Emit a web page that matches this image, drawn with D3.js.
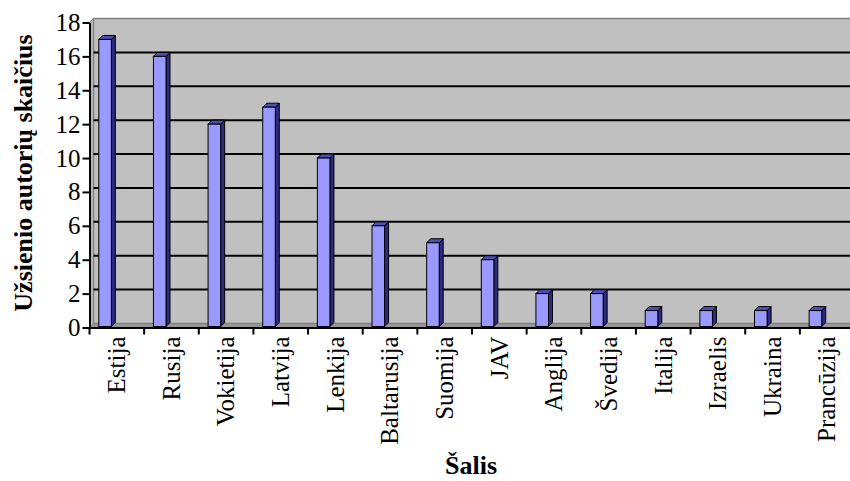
<!DOCTYPE html>
<meta charset="utf-8">
<style>
body { margin: 0; background: #fff; }
svg { display: block; }
.tick text { font-family: "Liberation Serif", "Times New Roman", serif; fill: #000; }
.title { font-family: "Liberation Serif", "Times New Roman", serif; font-weight: bold; fill: #000; }
</style>
<body>
<div id="chart"></div>
<script src="https://cdn.jsdelivr.net/npm/d3@7/dist/d3.min.js"></script>
<script>
// countries and number of foreign authors
var countries = ["Estija", "Rusija", "Vokietija", "Latvija", "Lenkija", "Baltarusija", "Suomija",
                 "JAV", "Anglija", "Švedija", "Italija", "Izraelis", "Ukraina", "Prancūzija"];
var authors = [17, 16, 12, 13, 10, 6, 5, 4, 2, 2, 1, 1, 1, 1];
var yTicks = [0, 2, 4, 6, 8, 10, 12, 14, 16, 18];

var width = 850, height = 481;
var depth = 4;   // fake 3d offset

var svg = d3.select("#chart").append("svg")
    .attr("width", width)
    .attr("height", height);

var x = d3.scaleBand()
    .domain(countries)
    .range([89.5, 854.5])
    .padding(0);

var y = d3.scaleLinear()
    .domain([0, 18])
    .range([327.5, 22.5]);

var x0 = x.range()[0], x1 = x.range()[1];
var y0 = y(0), yTop = y(18);

// back wall
svg.append("rect")
    .attr("x", x0 + depth)
    .attr("y", yTop - depth)
    .attr("width", x1 - x0)
    .attr("height", y0 - yTop)
    .attr("fill", "#c0c0c0")
    .attr("stroke", "#808080")
    .attr("stroke-width", 1.5);

// left side wall
svg.append("polygon")
    .attr("points", [[x0, yTop], [x0 + depth, yTop - depth], [x0 + depth, y0 - depth], [x0, y0]].join(" "))
    .attr("fill", "#b4b4b4")
    .attr("stroke", "#808080")
    .attr("stroke-width", 1);

// floor
svg.append("polygon")
    .attr("points", [[x0, y0], [x1, y0], [x1 + depth, y0 - depth], [x0 + depth, y0 - depth]].join(" "))
    .attr("fill", "#969696")
    .attr("stroke", "#808080")
    .attr("stroke-width", 1);

// gridlines on the back wall
svg.append("g")
    .selectAll("line")
    .data(yTicks.filter(function (d) { return d > 0 && d < 18; }))
    .enter().append("line")
    .attr("x1", x0 + depth)
    .attr("x2", x1 + depth)
    .attr("y1", function (d) { return y(d) - depth; })
    .attr("y2", function (d) { return y(d) - depth; })
    .attr("stroke", "#000")
    .attr("stroke-width", 2);

// bars
var bars = svg.append("g").selectAll("g")
    .data(countries)
    .enter().append("g");

var bx = function (d) { return x(d) + x.bandwidth() * 0.17; };
var bw = x.bandwidth() * 0.23;

bars.append("polygon")   // side
    .attr("points", function (d, i) {
        var l = bx(d) + bw, t = y(authors[i]);
        return [[l, t], [l + depth, t - depth], [l + depth, y0 - 1 - depth], [l, y0 - 1]].join(" ");
    })
    .attr("fill", "#2b2b80")
    .attr("stroke", "#000")
    .attr("stroke-width", 1);

bars.append("polygon")   // top
    .attr("points", function (d, i) {
        var l = bx(d), t = y(authors[i]);
        return [[l, t], [l + depth, t - depth], [l + bw + depth, t - depth], [l + bw, t]].join(" ");
    })
    .attr("fill", "#4d4db3")
    .attr("stroke", "#000")
    .attr("stroke-width", 1);

bars.append("rect")      // front
    .attr("x", function (d) { return bx(d); })
    .attr("y", function (d, i) { return y(authors[i]); })
    .attr("width", bw)
    .attr("height", function (d, i) { return y0 - 1 - y(authors[i]); })
    .attr("fill", "#9999ff")
    .attr("stroke", "#000")
    .attr("stroke-width", 1);

// y axis
var yAxis = svg.append("g")
    .attr("transform", "translate(" + x0 + ",0)")
    .call(d3.axisLeft(y).tickValues(yTicks).tickSize(7).tickSizeOuter(0).tickPadding(2));
yAxis.selectAll("text").style("font-size", "25px");
yAxis.selectAll("line, path").attr("stroke", "#000").attr("stroke-width", 2);

// x axis: labels at band centers, ticks at band boundaries
var xAxis = svg.append("g")
    .attr("transform", "translate(0," + y0 + ")")
    .call(d3.axisBottom(x).tickSize(0).tickSizeOuter(0));
xAxis.select(".domain").attr("stroke", "#000").attr("stroke-width", 2);
xAxis.selectAll("text")
    .style("font-size", "25px")
    .attr("text-anchor", "end")
    .attr("dy", "0.33em")
    .attr("y", 0)
    .attr("transform", "translate(0,9) rotate(-90)");

xAxis.selectAll(".bound")
    .data(countries)
    .enter().append("line")
    .attr("class", "bound")
    .attr("x1", function (d) { return x(d); })
    .attr("x2", function (d) { return x(d); })
    .attr("y1", 0)
    .attr("y2", 7)
    .attr("stroke", "#000")
    .attr("stroke-width", 2);

// titles
svg.append("text")
    .attr("class", "title")
    .attr("transform", "translate(32,173) rotate(-90)")
    .attr("text-anchor", "middle")
    .style("font-size", "26px")
    .text("Užsienio autorių skaičius");

svg.append("text")
    .attr("class", "title")
    .attr("x", 471)
    .attr("y", 474)
    .attr("text-anchor", "middle")
    .style("font-size", "26px")
    .text("Šalis");
</script>
